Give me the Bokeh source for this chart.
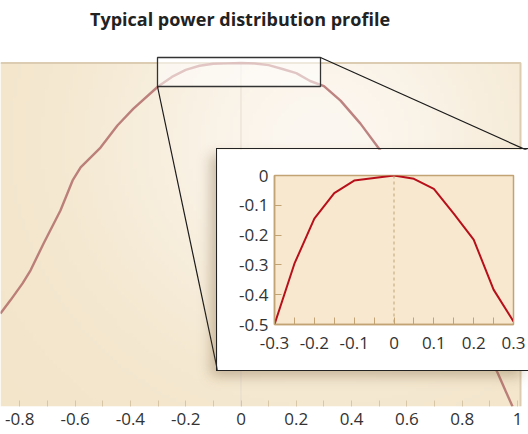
import numpy as np
from bokeh.plotting import figure
from bokeh.models import Range1d, FixedTicker, CustomJSTickFormatter, Span
from bokeh.core.properties import value
from bokeh.embed import file_html
from bokeh.resources import INLINE

# ---------------- data ----------------
title_text = "Typical power distribution profile"

left_x = [-0.870, -0.834, -0.790, -0.761, -0.714, -0.653, -0.609, -0.580, -0.508, -0.447, -0.389]
left_y = [-5.33, -5.05, -4.69, -4.41, -3.84, -3.14, -2.50, -2.22, -1.80, -1.33, -0.97]

inset_x = [-0.30, -0.25, -0.20, -0.15, -0.10, -0.05, 0.00, 0.05, 0.10, 0.15, 0.20, 0.25, 0.30]
inset_y = [-0.50, -0.296, -0.145, -0.059, -0.017, -0.008, 0.000, -0.011, -0.045, -0.128, -0.215, -0.383, -0.49]

right_x = [0.360, 0.432, 0.504, 0.928, 0.957, 0.982]
right_y = [-0.80, -1.29, -1.86, -6.59, -6.98, -7.31]

main_xticks = [-0.8, -0.6, -0.4, -0.2, 0.0, 0.2, 0.4, 0.6, 0.8, 1.0]
inset_xticks = [-0.3, -0.2, -0.1, 0.0, 0.1, 0.2, 0.3]
inset_yticks = [-0.5, -0.4, -0.3, -0.2, -0.1, 0.0]

main_x = left_x + inset_x + right_x
main_y = left_y + inset_y + right_y

# ---------------- styling ----------------
FONT = "Open Sans"
TAN = "#c2a374"
fmt = CustomJSTickFormatter(code="""
    if (Math.abs(tick) < 1e-9) { return '0'; }
    return (Math.round(tick * 10) / 10).toString();
""")

# page coordinates (the canvas starts at page 0,0)
W, H = 528, 434
frame_top, frame_bottom = 0, 406
frame_left, frame_right = 0, 528
X0_PX, X_SCALE = 240.5, 276.5           # page x of data 0, px per unit
Y0_PX = 62.5                            # page y of data 0
Y_SCALE = (frame_bottom - Y0_PX) / 7.309

def px_x(px):
    return (px - X0_PX) / X_SCALE

def px_y(py):
    return -(py - Y0_PX) / Y_SCALE

x_lo, x_hi = px_x(frame_left), px_x(frame_right)
y_lo, y_hi = px_y(frame_bottom), px_y(frame_top)
area_right = px_x(520)
area_top = 0.0

p = figure(width=W, height=H, x_range=Range1d(x_lo, x_hi), y_range=Range1d(y_lo, y_hi),
           output_backend="svg", toolbar_location=None, y_axis_location=None,
           min_border_left=0, min_border_right=0, min_border_top=0,
           min_border_bottom=H - frame_bottom,
           background_fill_color="white", border_fill_color="white",
           outline_line_color=None)
p.grid.visible = False

# chart title
p.text(x=[px_x(239.5)], y=[px_y(18)], text=[title_text], text_align="center",
       text_baseline="middle", text_font=value(FONT), text_font_size=value("18px"),
       text_font_style="bold", text_color="#222222")

# soft radial glow on the beige area
ny, nx = 90, 130
gx = np.linspace(frame_left, 520, nx)
gy = np.linspace(frame_bottom, Y0_PX, ny)
GX, GY = np.meshgrid(gx, gy)
f = np.exp(-(((GX - 320) / 210.0) ** 2 + ((GY - 140) / 200.0) ** 2))
edge = np.array([243, 229, 202])
cent = np.array([252, 247, 240])
rgb = edge[None, None, :] * (1 - f[..., None]) + cent[None, None, :] * f[..., None]
img = np.empty((ny, nx), dtype=np.uint32)
view = img.view(dtype=np.uint8).reshape((ny, nx, 4))
view[..., 0] = rgb[..., 0].astype(np.uint8)
view[..., 1] = rgb[..., 1].astype(np.uint8)
view[..., 2] = rgb[..., 2].astype(np.uint8)
view[..., 3] = 255
p.image_rgba(image=[img], x=x_lo, y=y_lo, dw=area_right - x_lo, dh=area_top - y_lo)

# thin border on top / right of plotting area
p.line([x_lo, area_right, area_right], [area_top, area_top, y_lo], line_color="#dccdb2", line_width=2)

# faint vertical line at x = 0 inside the plotting area
p.line([0, 0], [area_top, y_lo], line_color="#e2d8ca", line_width=1, line_alpha=0.8)

p.line(main_x, main_y, line_color="#a85c5c", line_width=2.4, line_alpha=0.75)

# zoom box
bx0, bx1 = px_x(157), px_x(320)
by0, by1 = px_y(86), px_y(57)
p.quad(left=[bx0], right=[bx1], bottom=[by0], top=[by1], fill_color="white", fill_alpha=0.55,
       line_color="#333333", line_width=1.3)

# connector lines to inset
p.line([bx0, px_x(217)], [by0, px_y(370)], line_color="#1a1a1a", line_width=1.2)
p.line([bx1, px_x(528)], [by1, px_y(150.5)], line_color="#1a1a1a", line_width=1.2)

xa = p.xaxis[0]
xa.ticker = FixedTicker(ticks=main_xticks,
                        minor_ticks=[round(t + 0.1, 2) for t in main_xticks] + [-0.9])
xa.formatter = fmt
xa.axis_line_color = None
xa.major_tick_in = 6
xa.major_tick_out = 0
xa.minor_tick_in = 6
xa.minor_tick_out = 0
xa.major_tick_line_color = "#cbb896"
xa.minor_tick_line_color = "#cbb896"
xa.major_tick_line_alpha = 0.7
xa.minor_tick_line_alpha = 0.7
xa.major_label_text_font = FONT
xa.major_label_text_font_size = "17px"
xa.major_label_text_color = "#333333"
xa.major_label_standoff = 6

# ---------------- inset ----------------
ins = figure(width=311, height=221, x_range=Range1d(inset_xticks[0], inset_xticks[-1]),
             y_range=Range1d(inset_yticks[0], inset_yticks[-1]),
             output_backend="svg", toolbar_location=None,
             min_border_left=57, min_border_right=15, min_border_top=26, min_border_bottom=46,
             background_fill_color="#f7e8cf", border_fill_color="white",
             outline_line_color=TAN, outline_line_width=1.5,
             stylesheets=[":host { position: absolute !important; left: 217px !important; top: 149px !important;"
                          " box-shadow: 0 0 0 1px #222222, -6px 6px 12px rgba(110,80,40,0.35); z-index: 5; }"])
ins.grid.visible = False
ins.add_layout(Span(location=0, dimension="height", line_color=TAN, line_width=1, line_dash="3 3"))
ins.line(inset_x, inset_y, line_color="#b8101a", line_width=2)

ix = ins.xaxis[0]
ix.ticker = FixedTicker(ticks=inset_xticks,
                        minor_ticks=[round(t + 0.05, 3) for t in inset_xticks[:-1]])
iy = ins.yaxis[0]
iy.ticker = FixedTicker(ticks=inset_yticks)
for ax in (ix, iy):
    ax.formatter = fmt
    ax.axis_line_color = TAN
    ax.axis_line_width = 1.5
    ax.major_tick_in = 7
    ax.major_tick_out = 0
    ax.minor_tick_in = 7
    ax.minor_tick_out = 0
    ax.major_tick_line_color = TAN
    ax.minor_tick_line_color = TAN
    ax.major_label_text_font = FONT
    ax.major_label_text_font_size = "17px"
    ax.major_label_text_color = "#333333"
ix.major_label_standoff = 12
iy.major_label_standoff = 6

open("out.html", "w").write(file_html([p, ins], INLINE))
